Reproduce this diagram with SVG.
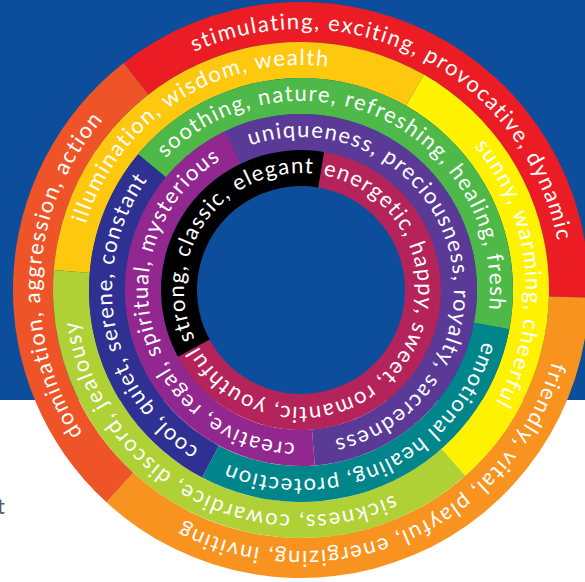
<svg xmlns="http://www.w3.org/2000/svg" width="585" height="582" viewBox="0 0 585 582">
  <style>
    .lbl { font-family: Lato, "Open Sans", "Liberation Sans", sans-serif; font-size: 22px; fill: #ffffff; font-variant-ligatures: none; font-feature-settings: "liga" 0, "clig" 0; }
    .note { font-family: Lato, "Liberation Sans", sans-serif; font-size: 22px; fill: #58595b; }
  </style>
  <defs>
    <!-- clockwise baselines, centre (301,290) -->
    <path id="arc-red" d="M194.43 51.75 A261 261 0 0 1 561.64 276.34"/>
    <path id="arc-orange" d="M551.89 361.94 A261 261 0 0 1 151.30 503.80"/>
    <path id="arc-redorange" d="M82.85 433.29 A261 261 0 0 1 126.36 96.04"/>
    <path id="arc-gold" d="M85.95 223.84 A225 225 0 0 1 359.23 72.67"/>
    <path id="arc-yellow" d="M474.12 146.28 A225 225 0 0 1 478.30 428.52"/>
    <path id="arc-yellowgreen" d="M393.59 495.07 A225 225 0 0 1 76 290"/>
    <path id="arc-green" d="M165.50 158.23 A189 189 0 0 1 484.39 335.72"/>
    <path id="arc-teal" d="M482.86 341.46 A189 189 0 0 1 206.5 453.68"/>
    <path id="arc-indigo" d="M198.89 449.05 A189 189 0 0 1 162.77 161.10"/>
    <path id="arc-violet" d="M250.18 145.69 A153 153 0 1 1 314.34 442.42"/>
    <path id="arc-purple" d="M294.86 442.88 A153 153 0 0 1 233.93 152.48"/>
    <path id="arc-black" d="M194.70 338.89 A117 117 0 0 1 319.30 174.44"/>
    <path id="arc-crimson" d="M322.92 175.07 A117 117 0 1 1 195.84 341.29"/>
  </defs>

  <!-- page -->
  <rect x="0" y="0" width="585" height="582" fill="#ffffff"/>
  <rect x="0" y="0" width="585" height="400" fill="#0c4e9b"/>
  <text class="note" x="-3" y="514">t</text>

  <!-- outer ring -->
  <g id="seg-red">
    <path fill="#ec1c24" d="M123.69 63.05 A288 288 0 0 1 588.90 297.54 L548.92 296.49 A248 248 0 0 0 148.32 94.57 Z"/>
    <text class="lbl"><textPath href="#arc-red" textLength="469.7" lengthAdjust="spacing">stimulating, exciting, provocative, dynamic</textPath></text>
  </g>
  <g id="seg-orange">
    <path fill="#f7931e" d="M588.90 297.54 A288 288 0 0 1 106.43 502.34 L133.45 472.85 A248 248 0 0 0 548.92 296.49 Z"/>
    <text class="lbl"><textPath href="#arc-orange" textLength="459.6" lengthAdjust="spacing">friendly, vital, playful, energizing, inviting</textPath></text>
  </g>
  <g id="seg-redorange">
    <path fill="#ef5428" d="M106.43 502.34 A288 288 0 0 1 123.69 63.05 L148.32 94.57 A248 248 0 0 0 133.45 472.85 Z"/>
    <text class="lbl"><textPath href="#arc-redorange" textLength="336.6" lengthAdjust="spacing">domination, aggression, action</textPath></text>
  </g>

  <!-- second ring -->
  <g id="seg-gold">
    <path fill="#fec80e" d="M53.80 270.11 A248 248 0 0 1 423.87 74.58 L406.04 105.85 A212 212 0 0 0 89.68 273.00 Z"/>
    <text class="lbl"><textPath href="#arc-gold" textLength="313" lengthAdjust="spacing">illumination, wisdom, wealth</textPath></text>
  </g>
  <g id="seg-yellow">
    <path fill="#fff200" d="M423.87 74.58 A248 248 0 0 1 465.33 475.74 L441.48 448.78 A212 212 0 0 0 406.04 105.85 Z"/>
    <text class="lbl"><textPath href="#arc-yellow" textLength="273.7" lengthAdjust="spacing">sunny, warming, cheerful</textPath></text>
  </g>
  <g id="seg-yellowgreen">
    <path fill="#afd136" d="M465.33 475.74 A248 248 0 0 1 53.80 270.11 L89.68 273.00 A212 212 0 0 0 441.48 448.78 Z"/>
    <text class="lbl"><textPath href="#arc-yellowgreen" textLength="417.1" lengthAdjust="spacing">sickness, cowardice, discord, jealousy</textPath></text>
  </g>

  <!-- third ring -->
  <g id="seg-green">
    <path fill="#4eb848" d="M138.12 154.30 A212 212 0 0 1 509.31 329.36 L473.94 322.68 A176 176 0 0 0 165.78 177.34 Z"/>
    <text class="lbl"><textPath href="#arc-green" textLength="467.4" lengthAdjust="spacing">soothing, nature, refreshing, healing, fresh</textPath></text>
  </g>
  <g id="seg-teal">
    <path fill="#00868a" d="M509.31 329.36 A212 212 0 0 1 202.13 477.53 L218.92 445.69 A176 176 0 0 0 473.94 322.68 Z"/>
    <text class="lbl"><textPath href="#arc-teal" textLength="319.6" lengthAdjust="spacing">emotional healing, protection</textPath></text>
  </g>
  <g id="seg-indigo">
    <path fill="#2e3191" d="M202.13 477.53 A212 212 0 0 1 138.12 154.30 L165.78 177.34 A176 176 0 0 0 218.92 445.69 Z"/>
    <text class="lbl"><textPath href="#arc-indigo" textLength="306.1" lengthAdjust="spacing">cool, quiet, serene, constant</textPath></text>
  </g>

  <!-- fourth ring -->
  <g id="seg-violet">
    <path fill="#5b3a97" d="M225.23 131.14 A176 176 0 1 1 314.81 465.46 L311.98 429.57 A140 140 0 1 0 240.73 163.64 Z"/>
    <text class="lbl"><textPath href="#arc-violet" textLength="498.3" lengthAdjust="spacing">uniqueness, preciousness, royalty, sacredness</textPath></text>
  </g>
  <g id="seg-purple">
    <path fill="#92278f" d="M314.81 465.46 A176 176 0 0 1 225.23 131.14 L240.73 163.64 A140 140 0 0 0 311.98 429.57 Z"/>
    <text class="lbl"><textPath href="#arc-purple" textLength="389.3" lengthAdjust="spacing">creative, regal, spiritual, mysterious</textPath></text>
  </g>

  <!-- inner ring -->
  <g id="seg-crimson">
    <path fill="#b5235b" d="M324.11 151.92 A140 140 0 1 1 177.97 356.80 L209.60 339.62 A104 104 0 1 0 318.17 187.43 Z"/>
    <text class="lbl"><textPath href="#arc-crimson" textLength="470.1" lengthAdjust="spacing">energetic, happy, sweet, romantic, youthful</textPath></text>
  </g>
  <g id="seg-black">
    <path fill="#000000" d="M177.97 356.80 A140 140 0 0 1 324.11 151.92 L318.17 187.43 A104 104 0 0 0 209.60 339.62 Z"/>
    <text class="lbl"><textPath href="#arc-black" textLength="245.5" lengthAdjust="spacing">strong, classic, elegant</textPath></text>
  </g>
</svg>
